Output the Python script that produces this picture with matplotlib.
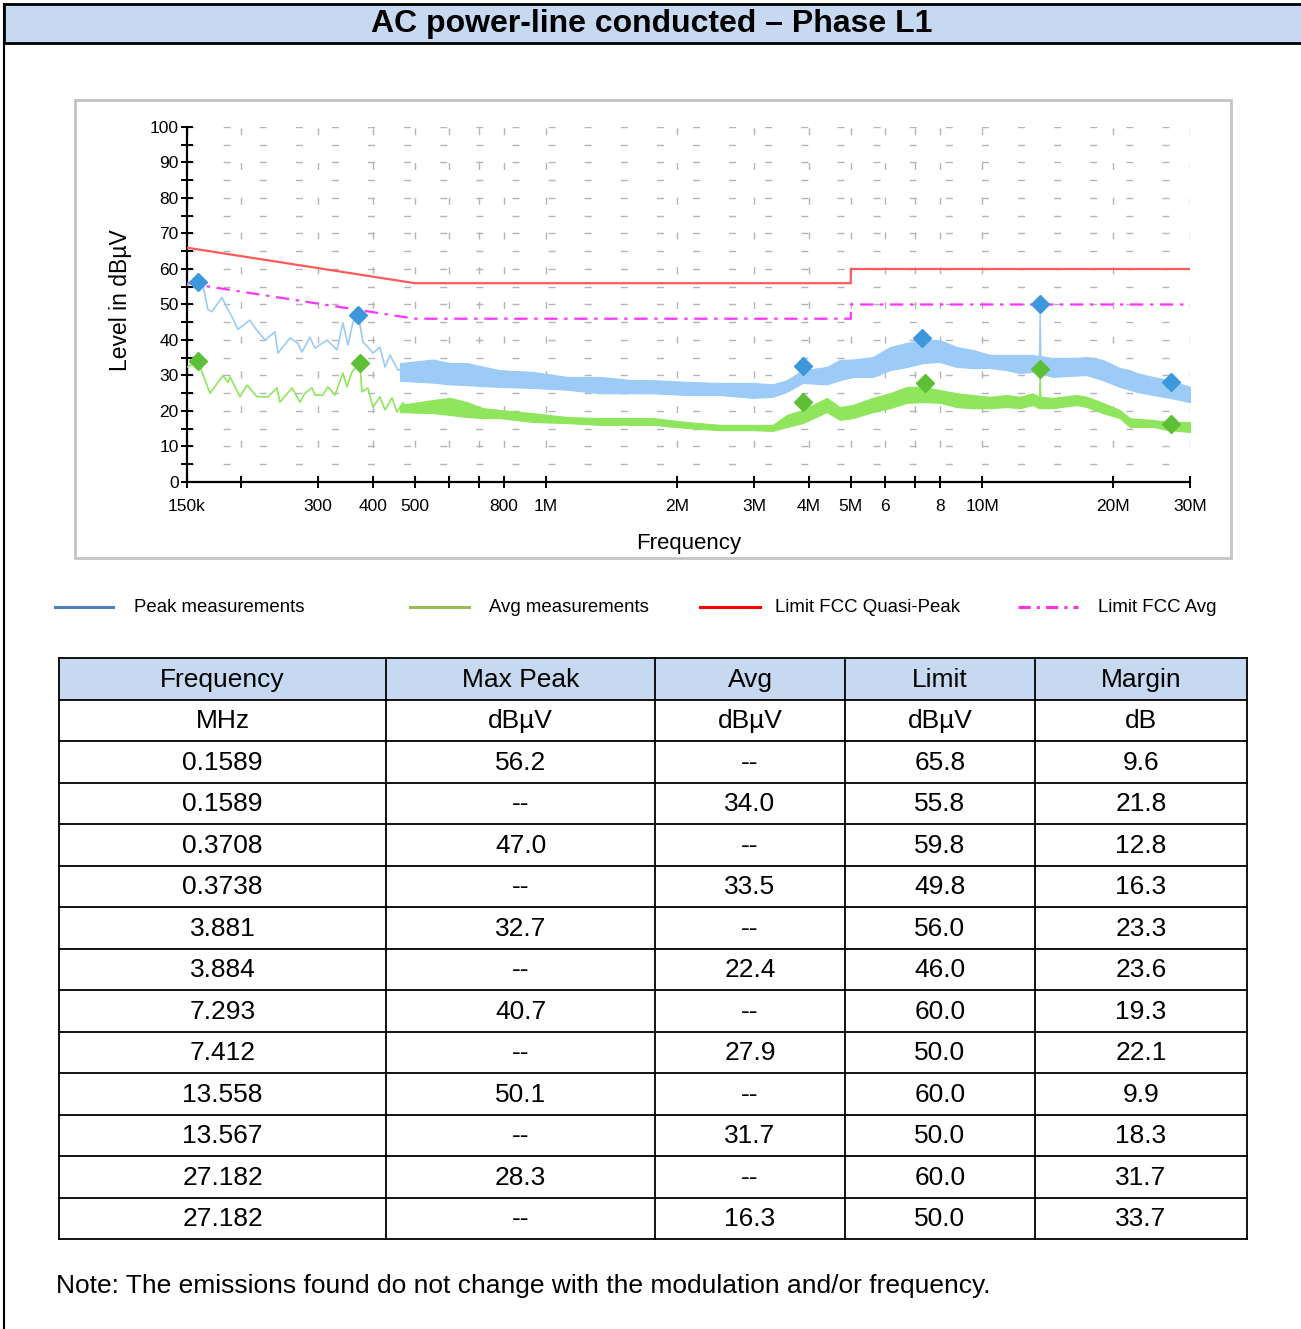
import numpy as np
import matplotlib
matplotlib.use("Agg")
import matplotlib.pyplot as plt
from matplotlib.patches import Rectangle
from matplotlib.ticker import NullLocator, MultipleLocator

plt.rcParams['font.family'] = ['Liberation Sans', 'DejaVu Sans']

# --- measured traces (MHz / dBuV), read off the screenshot ---
# low band: single wavy lines
peak_lo_f = [0.150, 0.1589, 0.1632, 0.1676, 0.1712, 0.1804, 0.1853, 0.1883, 0.1964,
             0.2091, 0.2148, 0.2265, 0.2387, 0.2425, 0.2585, 0.2696, 0.2753, 0.2872,
             0.2949, 0.3143, 0.3312, 0.3418, 0.3510, 0.3604, 0.3708, 0.3800, 0.3900,
             0.4007, 0.4157, 0.4269, 0.4383, 0.4571, 0.4793, 0.4949, 0.5080]
peak_lo_db = [55.5, 56.2, 55.3, 48.5, 48.0, 52.0, 49.0, 47.6, 43.0,
              45.6, 43.4, 40.0, 42.3, 36.3, 40.6, 39.0, 36.6, 40.8,
              37.7, 40.0, 37.2, 44.8, 38.6, 45.0, 47.0, 39.4, 38.0,
              36.3, 38.0, 32.4, 35.8, 31.5, 32.4, 30.0, 32.4]

avg_lo_f = [0.150, 0.1589, 0.1607, 0.1694, 0.1814, 0.1863, 0.1883, 0.1984, 0.2060,
            0.2171, 0.2301, 0.2412, 0.2451, 0.2612, 0.2724, 0.2797, 0.2902, 0.2949,
            0.3075, 0.3157, 0.3277, 0.3418, 0.3492, 0.3585, 0.3738, 0.3780, 0.3900,
            0.4007, 0.4157, 0.4269, 0.4430, 0.4547, 0.4693, 0.4871, 0.5080]
avg_lo_db = [32.4, 34.0, 32.4, 25.0, 30.0, 28.0, 29.6, 24.0, 27.3,
             24.0, 24.0, 26.5, 22.5, 26.5, 22.5, 25.0, 26.5, 24.5,
             24.5, 26.8, 24.5, 30.7, 26.8, 31.0, 33.5, 25.4, 26.5,
             21.1, 24.0, 20.3, 23.7, 19.7, 22.3, 19.7, 21.7]

# upper band: noisy, so kept as upper / lower envelope
band_f = [0.462, 0.550, 0.602, 0.658, 0.716, 0.783, 0.933, 1.116, 1.329, 1.581,
          1.758, 2.103, 2.504, 2.981, 3.312, 3.567, 3.881, 4.406, 4.719, 5.055,
          5.617, 6.145, 6.722, 7.314, 8.004, 8.754, 9.527, 10.42, 11.40, 12.21,
          13.08, 13.50, 13.558, 13.62, 14.53, 16.50, 17.39, 18.93, 20.70, 21.83,
          22.65, 24.64, 26.95, 30.0]
peak_hi = [33.5, 34.5, 33.5, 33.5, 32.5, 31.5, 31.0, 29.6, 29.6, 28.7,
           28.7, 28.2, 27.9, 27.9, 27.5, 28.7, 31.5, 32.4, 34.4, 34.5,
           35.2, 38.0, 39.2, 40.0, 40.0, 38.0, 37.2, 35.8, 35.8, 35.8,
           35.8, 35.5, 50.1, 35.5, 34.9, 35.0, 35.2, 34.4, 32.1, 31.5,
           30.7, 29.6, 28.7, 26.8]
peak_lo = [28.5, 28.0, 27.5, 27.3, 27.0, 26.8, 26.5, 26.0, 25.0, 25.0,
           25.0, 24.5, 24.5, 23.7, 24.0, 25.4, 27.9, 27.5, 28.7, 29.6,
           29.6, 31.5, 32.4, 33.5, 33.8, 32.4, 32.1, 32.1, 31.5, 30.7,
           31.0, 30.5, 30.5, 30.5, 29.6, 30.0, 30.1, 28.7, 26.8, 26.0,
           25.4, 24.5, 23.7, 22.5]
avg_hi = [21.7, 23.1, 23.7, 22.5, 20.8, 20.3, 19.4, 18.3, 18.0, 18.0,
          18.0, 16.9, 16.1, 16.1, 16.1, 18.9, 20.3, 23.7, 21.1, 21.7,
          23.7, 25.0, 26.8, 26.8, 25.9, 25.0, 24.5, 24.0, 24.5, 24.0,
          25.0, 24.0, 31.7, 24.0, 23.7, 24.5, 24.0, 22.3, 20.3, 18.0,
          17.8, 17.5, 16.9, 16.9]
avg_lo = [19.7, 19.4, 18.9, 18.3, 18.0, 18.0, 16.9, 16.6, 16.1, 16.1,
          16.1, 15.2, 14.6, 14.6, 14.4, 15.5, 16.6, 19.7, 17.5, 18.0,
          19.7, 20.8, 22.3, 22.5, 22.3, 21.1, 20.8, 20.8, 21.1, 20.8,
          21.7, 20.8, 20.8, 20.8, 20.8, 21.7, 21.1, 19.4, 18.0, 15.5,
          15.5, 15.5, 14.6, 14.1]

# FCC class B limits
lim_f = [0.15, 0.5, 5.0, 5.0, 30.0]
lim_qp = [66, 56, 56, 60, 60]
lim_avg = [56, 46, 46, 50, 50]

# final measurement table
tbl_freq = ["0.1589", "0.1589", "0.3708", "0.3738", "3.881", "3.884",
            "7.293", "7.412", "13.558", "13.567", "27.182", "27.182"]
tbl_peak = [56.2, None, 47.0, None, 32.7, None, 40.7, None, 50.1, None, 28.3, None]
tbl_avg = [None, 34.0, None, 33.5, None, 22.4, None, 27.9, None, 31.7, None, 16.3]
tbl_limit = [65.8, 55.8, 59.8, 49.8, 56.0, 46.0, 60.0, 50.0, 60.0, 50.0, 60.0, 50.0]
tbl_margin = [9.6, 21.8, 12.8, 16.3, 23.3, 23.6, 19.3, 22.1, 9.9, 18.3, 31.7, 33.7]

xticks = [0.15, 0.2, 0.3, 0.4, 0.5, 0.6, 0.7, 0.8, 1, 2, 3, 4, 5, 6, 7, 8, 10, 20, 30]
xlabels = ['150k', '', '300', '400', '500', '', '', '800', '1M', '2M', '3M', '4M',
           '5M', '6', '', '8', '10M', '20M', '30M']

W, H = 1301, 1329
fig = plt.figure(figsize=(W / 100, H / 100), dpi=100)

# page overlay in pixel coords
bg = fig.add_axes([0, 0, 1, 1])
bg.set_xlim(0, W)
bg.set_ylim(H, 0)
bg.axis('off')

# title bar + frame
bg.add_patch(Rectangle((4, 4), W, 39, facecolor='#c6d9f1', edgecolor='black', lw=2))
bg.plot([4, 4], [4, H], color='black', lw=1.5)
bg.text(652, 24, 'AC power-line conducted \u2013 Phase L1', ha='center', va='center',
        fontsize=23, fontweight='bold')

# chart box
bg.add_patch(Rectangle((75, 100), 1156, 458, facecolor='white', edgecolor='#c4c4c4', lw=2))
bg.text(120, 300, 'Level in dB\u00b5V', rotation=90, ha='center', va='center', fontsize=16.5)
bg.text(689, 543, 'Frequency', ha='center', va='center', fontsize=16)

# legend
leg = [((55, 113), '#4f81bd', '-', 'Peak measurements', 134),
       ((410, 469), '#9bbb59', '-', 'Avg measurements', 489),
       ((700, 760), '#ff0000', '-', 'Limit FCC Quasi-Peak', 775),
       ((1018, 1078), '#ff33dd', (0, (4, 2, 1, 2)), 'Limit FCC Avg', 1098)]
for (x0, x1), c, ls, lab, tx in leg:
    bg.plot([x0, x1], [607, 607], color=c, lw=2.2, ls=ls)
    bg.text(tx, 607, lab, ha='left', va='center', fontsize=13.4)

# table
col_x = [59, 386, 655, 845, 1035, 1247]
row_top, row_h = 658, 41.5
n_rows = 2 + len(tbl_freq)
bg.add_patch(Rectangle((col_x[0], row_top), col_x[-1] - col_x[0], row_h,
                       facecolor='#c6d9f1', edgecolor='none'))
for i in range(n_rows + 1):
    y = row_top + i * row_h
    bg.plot([col_x[0], col_x[-1]], [y, y], color='black', lw=1.3)
for x in col_x:
    bg.plot([x, x], [row_top, row_top + n_rows * row_h], color='black', lw=1.3)

def fmt(v):
    return '--' if v is None else f'{v:.1f}'

rows = [['Frequency', 'Max Peak', 'Avg', 'Limit', 'Margin'],
        ['MHz', 'dB\u00b5V', 'dB\u00b5V', 'dB\u00b5V', 'dB']]
for i in range(len(tbl_freq)):
    rows.append([tbl_freq[i], fmt(tbl_peak[i]), fmt(tbl_avg[i]),
                 fmt(tbl_limit[i]), fmt(tbl_margin[i])])
for r, row in enumerate(rows):
    yc = row_top + (r + 0.5) * row_h
    for c, txt in enumerate(row):
        xc = (col_x[c] + col_x[c + 1]) / 2
        bg.text(xc, yc + 1, txt, ha='center', va='center', fontsize=19)

bg.text(56, 1286, 'Note: The emissions found do not change with the modulation and/or frequency.',
        ha='left', va='center', fontsize=19)

# spectrum axes
ax = fig.add_axes([187 / W, 1 - 482 / H, 1003 / W, 355 / H])
ax.patch.set_alpha(0)
ax.set_xscale('log')
ax.set_xlim(0.15, 30)
ax.set_ylim(0, 100)

peak_c, avg_c = '#9ccbf7', '#8fe65c'
ax.plot(lim_f, lim_qp, color='#ff5a5a', lw=1.6, zorder=3)
ax.plot(lim_f, lim_avg, color='#ff33ff', lw=1.6, ls=(0, (6, 3, 1.5, 3)), zorder=3)

ax.plot(peak_lo_f, peak_lo_db, color=peak_c, lw=1.2, zorder=4)
ax.fill_between(band_f, peak_lo, peak_hi, color=peak_c, lw=0.8, zorder=4)
ax.plot(avg_lo_f, avg_lo_db, color=avg_c, lw=1.2, zorder=4)
ax.fill_between(band_f, avg_lo, avg_hi, color=avg_c, lw=0.8, zorder=4)

pk_f = [float(f) for f, p in zip(tbl_freq, tbl_peak) if p is not None]
pk_v = [p for p in tbl_peak if p is not None]
av_f = [float(f) for f, a in zip(tbl_freq, tbl_avg) if a is not None]
av_v = [a for a in tbl_avg if a is not None]
ax.plot(pk_f, pk_v, 'D', color='#3d97dd', ms=9.5, zorder=6)
ax.plot(av_f, av_v, 'D', color='#5cbf35', ms=9.5, zorder=6)

ax.set_xticks(xticks, xlabels)
ax.xaxis.set_minor_locator(NullLocator())
ax.yaxis.set_major_locator(MultipleLocator(10))
ax.yaxis.set_minor_locator(MultipleLocator(5))
ax.tick_params(which='both', direction='inout', length=8, width=1.4, labelsize=12.5)
ax.tick_params(axis='y', pad=2)
ax.tick_params(axis='x', pad=8)
ax.grid(axis='y', which='both', color='#b4b4b4', lw=1.0, ls=(0, (5, 21)))
ax.grid(axis='x', which='major', color='#b4b4b4', lw=1.0, ls=(0, (5, 20)))
for s in ('top', 'right'):
    ax.spines[s].set_visible(False)
for s in ('left', 'bottom'):
    ax.spines[s].set_linewidth(1.6)

fig.savefig('out.png', dpi=100)
